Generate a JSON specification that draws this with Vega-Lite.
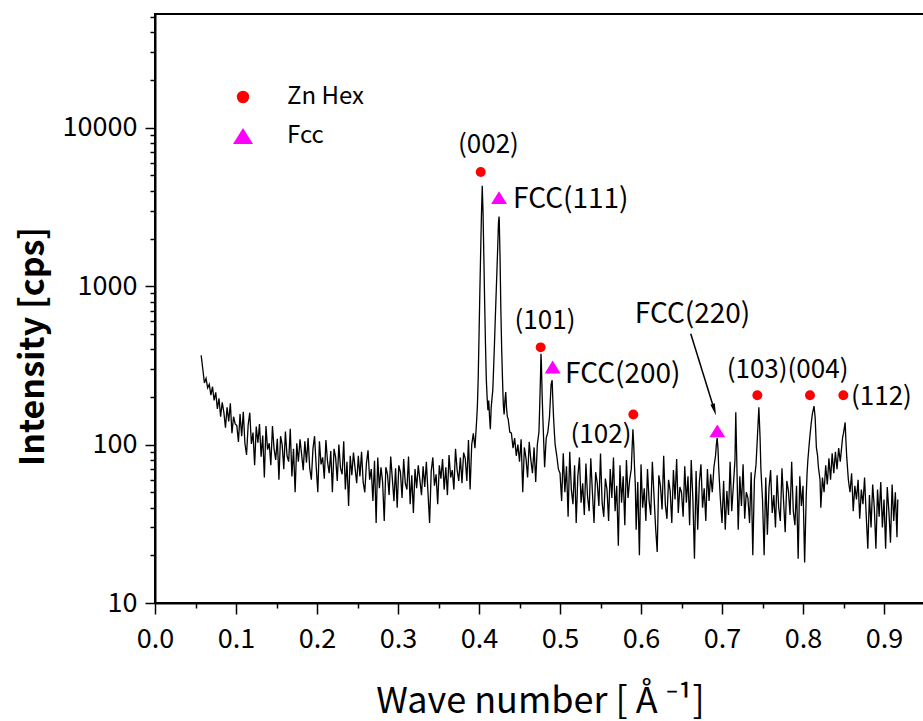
{
  "$schema": "https://vega.github.io/schema/vega-lite/v6.json",
  "width": 770,
  "height": 589,
  "autosize": "none",
  "padding": {"left": 155, "top": 14, "right": 0, "bottom": 118},
  "background": "white",
  "config": {
    "font": "Noto Sans CJK JP",
    "view": {"stroke": "black", "strokeWidth": 2},
    "axis": {"grid": false, "domainColor": "black", "domainWidth": 2, "tickColor": "black", "tickWidth": 1.5, "labelColor": "black", "titleColor": "black", "labelFont": "Noto Sans CJK JP", "titleFont": "Noto Sans CJK JP", "labelOverlap": false, "labelFlush": false}
  },
  "layer": [
    {
      "data": {"values": [
{"x":0.057,"y":366},{"x":0.059,"y":300},{"x":0.061,"y":245},{"x":0.063,"y":262},{"x":0.065,"y":228},{"x":0.067,"y":240},{"x":0.069,"y":205},{"x":0.071,"y":232},{"x":0.073,"y":190},{"x":0.075,"y":214},{"x":0.077,"y":168},{"x":0.079,"y":196},{"x":0.081,"y":150},{"x":0.083,"y":185},{"x":0.085,"y":160},{"x":0.087,"y":128},{"x":0.089,"y":172},{"x":0.091,"y":140},{"x":0.093,"y":182},{"x":0.095,"y":118},{"x":0.097,"y":150},{"x":0.099,"y":135},
{"x":0.101,"y":132},{"x":0.103,"y":104},{"x":0.105,"y":156},{"x":0.107,"y":113},{"x":0.109,"y":161},{"x":0.111,"y":102},{"x":0.113,"y":86},{"x":0.115,"y":133},{"x":0.117,"y":159},{"x":0.119,"y":101},{"x":0.121,"y":119},{"x":0.123,"y":74},{"x":0.125,"y":130},{"x":0.127,"y":103},{"x":0.129,"y":135},{"x":0.131,"y":84},{"x":0.133,"y":114},{"x":0.135,"y":62},{"x":0.137,"y":131},{"x":0.139,"y":93},{"x":0.141,"y":102},{"x":0.143,"y":74},{"x":0.145,"y":131},{"x":0.147,"y":94},{"x":0.149,"y":80},{"x":0.151,"y":109},{"x":0.153,"y":60},{"x":0.155,"y":113},{"x":0.157,"y":100},{"x":0.159,"y":70},{"x":0.161,"y":121},{"x":0.163,"y":85},{"x":0.165,"y":78},{"x":0.167,"y":126},{"x":0.169,"y":63},{"x":0.171,"y":94},{"x":0.173,"y":50},{"x":0.175,"y":102},{"x":0.177,"y":78},{"x":0.179,"y":108},{"x":0.181,"y":87},{"x":0.183,"y":69},{"x":0.185,"y":105},{"x":0.187,"y":77},{"x":0.189,"y":110},{"x":0.191,"y":71},{"x":0.193,"y":60},{"x":0.195,"y":94},{"x":0.197,"y":113},{"x":0.199,"y":73},
{"x":0.201,"y":50},{"x":0.203,"y":105},{"x":0.205,"y":75},{"x":0.207,"y":83},{"x":0.209,"y":61},{"x":0.211,"y":107},{"x":0.213,"y":78},{"x":0.215,"y":66},{"x":0.217,"y":91},{"x":0.219,"y":50},{"x":0.221,"y":94},{"x":0.223,"y":83},{"x":0.225,"y":59},{"x":0.227,"y":100},{"x":0.229,"y":71},{"x":0.231,"y":65},{"x":0.233,"y":105},{"x":0.235,"y":52},{"x":0.237,"y":78},{"x":0.239,"y":41},{"x":0.241,"y":85},{"x":0.243,"y":64},{"x":0.245,"y":89},{"x":0.247,"y":71},{"x":0.249,"y":57},{"x":0.251,"y":85},{"x":0.253,"y":63},{"x":0.255,"y":90},{"x":0.257,"y":58},{"x":0.259,"y":50},{"x":0.261,"y":76},{"x":0.263,"y":92},{"x":0.265,"y":60},{"x":0.267,"y":70},{"x":0.269,"y":44},{"x":0.271,"y":79},{"x":0.273,"y":32},{"x":0.275,"y":83},{"x":0.277,"y":53},{"x":0.279,"y":72},{"x":0.281,"y":58},{"x":0.283,"y":33},{"x":0.285,"y":72},{"x":0.287,"y":65},{"x":0.289,"y":48},{"x":0.291,"y":84},{"x":0.293,"y":61},{"x":0.295,"y":44},{"x":0.297,"y":71},{"x":0.299,"y":40},
{"x":0.301,"y":74},{"x":0.303,"y":67},{"x":0.305,"y":46},{"x":0.307,"y":81},{"x":0.309,"y":57},{"x":0.311,"y":52},{"x":0.313,"y":84},{"x":0.315,"y":42},{"x":0.317,"y":64},{"x":0.319,"y":37},{"x":0.321,"y":70},{"x":0.323,"y":53},{"x":0.325,"y":74},{"x":0.327,"y":60},{"x":0.329,"y":48},{"x":0.331,"y":73},{"x":0.333,"y":54},{"x":0.335,"y":78},{"x":0.337,"y":50},{"x":0.339,"y":32},{"x":0.341,"y":68},{"x":0.343,"y":83},{"x":0.345,"y":55},{"x":0.347,"y":65},{"x":0.349,"y":42},{"x":0.351,"y":74},{"x":0.353,"y":61},{"x":0.355,"y":81},{"x":0.357,"y":52},{"x":0.359,"y":72},{"x":0.361,"y":48},{"x":0.363,"y":86},{"x":0.365,"y":62},{"x":0.367,"y":69},{"x":0.369,"y":52},{"x":0.371,"y":94},{"x":0.373,"y":69},{"x":0.375,"y":59},{"x":0.377,"y":83},{"x":0.379,"y":57},{"x":0.381,"y":89},{"x":0.383,"y":82},{"x":0.385,"y":59},{"x":0.387,"y":107},{"x":0.389,"y":52},{"x":0.391,"y":100},{"x":0.393,"y":118},{"x":0.395,"y":95},{"x":0.397,"y":140},{"x":0.398,"y":175},{"x":0.399,"y":260},{"x":0.400,"y":480},{"x":0.401,"y":900},{"x":0.402,"y":1600},{"x":0.403,"y":2800},{"x":0.404,"y":4300},{"x":0.405,"y":2900},{"x":0.406,"y":1500},{"x":0.407,"y":780},{"x":0.408,"y":430},{"x":0.409,"y":260},{"x":0.410,"y":200},{"x":0.411,"y":165},{"x":0.412,"y":190},{"x":0.413,"y":150},{"x":0.414,"y":125},{"x":0.415,"y":170},{"x":0.416,"y":195},{"x":0.417,"y":220},{"x":0.418,"y":300},{"x":0.419,"y":420},{"x":0.420,"y":600},{"x":0.421,"y":850},{"x":0.422,"y":1200},{"x":0.423,"y":1700},{"x":0.424,"y":2500},{"x":0.4247,"y":2750},{"x":0.425,"y":2600},{"x":0.426,"y":1500},{"x":0.427,"y":700},{"x":0.428,"y":400},{"x":0.429,"y":260},{"x":0.430,"y":180},{"x":0.431,"y":155},{"x":0.432,"y":190},{"x":0.433,"y":215},{"x":0.434,"y":170},{"x":0.435,"y":150},{"x":0.436,"y":145},{"x":0.438,"y":120},{"x":0.440,"y":118},{"x":0.442,"y":95},{"x":0.444,"y":110},{"x":0.446,"y":85},{"x":0.448,"y":100},{"x":0.450,"y":78},{"x":0.452,"y":108},{"x":0.454,"y":50},{"x":0.456,"y":96},{"x":0.458,"y":82},{"x":0.460,"y":62},{"x":0.462,"y":104},{"x":0.464,"y":80},{"x":0.466,"y":66},{"x":0.468,"y":96},{"x":0.470,"y":58},{"x":0.472,"y":100},{"x":0.474,"y":120},{"x":0.475,"y":180},{"x":0.476,"y":280},{"x":0.4765,"y":375},{"x":0.477,"y":330},{"x":0.478,"y":200},{"x":0.479,"y":140},{"x":0.480,"y":100},{"x":0.481,"y":72},{"x":0.482,"y":90},{"x":0.483,"y":110},{"x":0.485,"y":120},{"x":0.487,"y":150},{"x":0.488,"y":190},{"x":0.489,"y":240},{"x":0.4903,"y":255},{"x":0.491,"y":200},{"x":0.492,"y":150},{"x":0.493,"y":120},{"x":0.494,"y":100},{"x":0.496,"y":85},{"x":0.498,"y":70},
{"x":0.500,"y":66},{"x":0.502,"y":44},{"x":0.504,"y":88},{"x":0.506,"y":50},{"x":0.508,"y":73},{"x":0.510,"y":35},{"x":0.512,"y":90},{"x":0.514,"y":52},{"x":0.516,"y":42},{"x":0.518,"y":74},{"x":0.520,"y":32},{"x":0.522,"y":63},{"x":0.524,"y":83},{"x":0.526,"y":43},{"x":0.528,"y":57},{"x":0.530,"y":36},{"x":0.532,"y":76},{"x":0.534,"y":47},{"x":0.536,"y":38},{"x":0.538,"y":82},{"x":0.540,"y":50},{"x":0.542,"y":32},{"x":0.544,"y":67},{"x":0.546,"y":57},{"x":0.548,"y":41},{"x":0.550,"y":88},{"x":0.552,"y":43},{"x":0.554,"y":35},{"x":0.556,"y":61},{"x":0.558,"y":52},{"x":0.560,"y":33},{"x":0.562,"y":70},{"x":0.564,"y":46},{"x":0.566,"y":83},{"x":0.568,"y":38},{"x":0.570,"y":55},{"x":0.572,"y":23},{"x":0.574,"y":74},{"x":0.576,"y":43},{"x":0.578,"y":63},{"x":0.580,"y":31},{"x":0.582,"y":80},{"x":0.584,"y":46},{"x":0.586,"y":60},{"x":0.588,"y":70},{"x":0.589,"y":95},{"x":0.590,"y":125},{"x":0.591,"y":100},{"x":0.592,"y":72},{"x":0.593,"y":55},{"x":0.594,"y":29},{"x":0.596,"y":58},{"x":0.598,"y":20},
{"x":0.600,"y":75},{"x":0.602,"y":40},{"x":0.604,"y":53},{"x":0.606,"y":33},{"x":0.608,"y":70},{"x":0.610,"y":44},{"x":0.612,"y":36},{"x":0.614,"y":78},{"x":0.616,"y":48},{"x":0.618,"y":30},{"x":0.620,"y":21},{"x":0.622,"y":64},{"x":0.624,"y":55},{"x":0.626,"y":39},{"x":0.628,"y":85},{"x":0.630,"y":42},{"x":0.632,"y":34},{"x":0.634,"y":60},{"x":0.636,"y":51},{"x":0.638,"y":32},{"x":0.640,"y":69},{"x":0.642,"y":45},{"x":0.644,"y":81},{"x":0.646,"y":37},{"x":0.648,"y":54},{"x":0.650,"y":50},{"x":0.652,"y":35},{"x":0.654,"y":73},{"x":0.656,"y":43},{"x":0.658,"y":63},{"x":0.660,"y":31},{"x":0.662,"y":80},{"x":0.664,"y":46},{"x":0.666,"y":19},{"x":0.668,"y":68},{"x":0.670,"y":29},{"x":0.672,"y":58},{"x":0.674,"y":75},{"x":0.676,"y":40},{"x":0.678,"y":53},{"x":0.680,"y":33},{"x":0.682,"y":70},{"x":0.684,"y":44},{"x":0.686,"y":65},{"x":0.688,"y":50},{"x":0.690,"y":72},{"x":0.692,"y":85},{"x":0.693,"y":100},{"x":0.694,"y":110},{"x":0.695,"y":95},{"x":0.696,"y":70},{"x":0.698,"y":45},
{"x":0.700,"y":32},{"x":0.702,"y":59},{"x":0.704,"y":29},{"x":0.706,"y":51},{"x":0.708,"y":36},{"x":0.710,"y":78},{"x":0.712,"y":38},{"x":0.714,"y":55},{"x":0.716,"y":80},{"x":0.717,"y":160},{"x":0.718,"y":90},{"x":0.720,"y":29},{"x":0.722,"y":63},{"x":0.724,"y":41},{"x":0.726,"y":75},{"x":0.728,"y":34},{"x":0.730,"y":50},{"x":0.732,"y":46},{"x":0.734,"y":32},{"x":0.736,"y":67},{"x":0.738,"y":20},{"x":0.740,"y":60},{"x":0.742,"y":75},{"x":0.744,"y":120},{"x":0.7455,"y":172},{"x":0.747,"y":110},{"x":0.748,"y":70},{"x":0.750,"y":45},{"x":0.752,"y":20},{"x":0.754,"y":62},{"x":0.756,"y":27},{"x":0.758,"y":53},{"x":0.760,"y":69},{"x":0.762,"y":37},{"x":0.764,"y":48},{"x":0.766,"y":30},{"x":0.768,"y":64},{"x":0.770,"y":40},{"x":0.772,"y":33},{"x":0.774,"y":71},{"x":0.776,"y":44},{"x":0.778,"y":28},{"x":0.780,"y":59},{"x":0.782,"y":51},{"x":0.784,"y":36},{"x":0.786,"y":78},{"x":0.788,"y":38},{"x":0.790,"y":31},{"x":0.792,"y":55},{"x":0.794,"y":19},{"x":0.796,"y":63},{"x":0.798,"y":41},
{"x":0.800,"y":55},{"x":0.802,"y":18},{"x":0.804,"y":48},{"x":0.805,"y":66},{"x":0.806,"y":80},{"x":0.808,"y":106},{"x":0.810,"y":135},{"x":0.8116,"y":157},{"x":0.8136,"y":175},{"x":0.815,"y":148},{"x":0.8165,"y":96},{"x":0.818,"y":85},{"x":0.819,"y":72},{"x":0.821,"y":60},{"x":0.822,"y":40},{"x":0.824,"y":62},{"x":0.826,"y":50},{"x":0.828,"y":74},{"x":0.830,"y":56},{"x":0.832,"y":82},{"x":0.834,"y":60},{"x":0.836,"y":88},{"x":0.838,"y":66},{"x":0.840,"y":90},{"x":0.842,"y":70},{"x":0.844,"y":95},{"x":0.846,"y":78},{"x":0.848,"y":100},{"x":0.849,"y":112},{"x":0.850,"y":118},{"x":0.852,"y":138},{"x":0.853,"y":105},{"x":0.854,"y":83},{"x":0.856,"y":60},{"x":0.858,"y":50},{"x":0.860,"y":66},{"x":0.862,"y":38},{"x":0.864,"y":55},{"x":0.866,"y":45},{"x":0.868,"y":60},{"x":0.870,"y":34},{"x":0.872,"y":52},{"x":0.874,"y":42},{"x":0.876,"y":62},{"x":0.878,"y":36},{"x":0.880,"y":22},{"x":0.882,"y":48},{"x":0.884,"y":30},{"x":0.886,"y":56},{"x":0.888,"y":40},{"x":0.890,"y":22},{"x":0.892,"y":52},{"x":0.894,"y":35},{"x":0.896,"y":58},{"x":0.898,"y":30},{"x":0.900,"y":45},{"x":0.902,"y":22},{"x":0.904,"y":54},{"x":0.906,"y":38},{"x":0.908,"y":24},{"x":0.910,"y":56},{"x":0.912,"y":33},{"x":0.914,"y":50},{"x":0.916,"y":26},{"x":0.917,"y":45}
      ]},
      "mark": {"type": "line", "color": "black", "strokeWidth": 1.3, "clip": true},
      "encoding": {
        "x": {"field": "x", "type": "quantitative",
          "scale": {"domain": [0, 0.9506], "nice": false, "zero": false},
          "axis": {
            "values": [0,0.05,0.1,0.15,0.2,0.25,0.3,0.35,0.4,0.45,0.5,0.55,0.6,0.65,0.7,0.75,0.8,0.85,0.9],
            "labelExpr": "round(datum.value*100) % 10 == 0 ? format(datum.value, '.1f') : ''",
            "tickSize": {"condition": {"test": "round(datum.value*100) % 10 == 0", "value": 11}, "value": 5},
            "labelFontSize": 27, "labelPadding": 12,
            "title": "Wave number [ Å ⁻¹]", "titleFontSize": 36, "titleFontWeight": "normal", "titlePadding": 32
          }
        },
        "y": {"field": "y", "type": "quantitative",
          "scale": {"type": "log", "domain": [10, 52300], "nice": false},
          "axis": {
            "values": [10,20,30,40,50,60,70,80,90,100,200,300,400,500,600,700,800,900,1000,2000,3000,4000,5000,6000,7000,8000,9000,10000,20000,30000,40000,50000],
            "labelExpr": "indexof([10,100,1000,10000], datum.value) >= 0 ? format(datum.value, 'd') : ''",
            "tickSize": {"condition": {"test": "indexof([10,100,1000,10000], datum.value) >= 0", "value": 10}, "value": 5},
            "labelFontSize": 27, "labelPadding": 8,
            "title": "Intensity [cps]", "titleFontSize": 34, "titleFontWeight": "bold", "titlePadding": 12, "titleY": 332
          }
        }
      }
    },
    {
      "data": {"values": [
        {"x": 0.4021, "y": 5260, "phase": "Zn Hex"},
        {"x": 0.4761, "y": 411, "phase": "Zn Hex"},
        {"x": 0.5905, "y": 155, "phase": "Zn Hex"},
        {"x": 0.7436, "y": 205, "phase": "Zn Hex"},
        {"x": 0.8086, "y": 205, "phase": "Zn Hex"},
        {"x": 0.8498, "y": 205, "phase": "Zn Hex"},
        {"x": 0.4247, "y": 3622, "phase": "Fcc"},
        {"x": 0.4909, "y": 309, "phase": "Fcc"},
        {"x": 0.6942, "y": 122, "phase": "Fcc"}
      ]},
      "mark": {"type": "point", "filled": true, "opacity": 1, "size": 98},
      "encoding": {
        "x": {"field": "x", "type": "quantitative"},
        "y": {"field": "y", "type": "quantitative"},
        "color": {"field": "phase", "type": "nominal",
          "scale": {"domain": ["Zn Hex", "Fcc"], "range": ["#ff0000", "#ff00ff"]},
          "legend": {"orient": "none", "legendX": 76, "legendY": 71, "title": null, "labelFontSize": 24, "labelColor": "black", "labelOffset": 32, "rowPadding": 15, "padding": 0, "symbolSize": 154, "symbolStrokeWidth": 0}},
        "shape": {"field": "phase", "type": "nominal",
          "scale": {"domain": ["Zn Hex", "Fcc"], "range": ["circle", "M0,-1.3L1.61,1.3L-1.61,1.3Z"]}}
      }
    },
    {
      "data": {"values": [
        {"x": 0.4117, "y": 7757, "label": "(002)"},
        {"x": 0.4815, "y": 600, "label": "(101)"},
        {"x": 0.5506, "y": 114.5, "label": "(102)"},
        {"x": 0.7809, "y": 294, "label": "(103)(004)"}
      ]},
      "mark": {"type": "text", "fontSize": 26, "color": "black", "align": "center", "baseline": "middle"},
      "encoding": {
        "x": {"field": "x", "type": "quantitative"},
        "y": {"field": "y", "type": "quantitative"},
        "text": {"field": "label"}
      }
    },
    {
      "data": {"values": [
        {"x": 0.8593, "y": 199, "label": "(112)"}
      ]},
      "mark": {"type": "text", "fontSize": 26, "color": "black", "align": "left", "baseline": "middle"},
      "encoding": {
        "x": {"field": "x", "type": "quantitative"},
        "y": {"field": "y", "type": "quantitative"},
        "text": {"field": "label"}
      }
    },
    {
      "data": {"values": [
        {"x": 0.442, "y": 3484, "label": "FCC(111)"},
        {"x": 0.5062, "y": 274, "label": "FCC(200)"}
      ]},
      "mark": {"type": "text", "fontSize": 28, "color": "black", "align": "left", "baseline": "middle"},
      "encoding": {
        "x": {"field": "x", "type": "quantitative"},
        "y": {"field": "y", "type": "quantitative"},
        "text": {"field": "label"}
      }
    },
    {
      "data": {"values": [
        {"x": 0.6636, "y": 655, "label": "FCC(220)"}
      ]},
      "mark": {"type": "text", "fontSize": 28, "color": "black", "align": "center", "baseline": "middle"},
      "encoding": {
        "x": {"field": "x", "type": "quantitative"},
        "y": {"field": "y", "type": "quantitative"},
        "text": {"field": "label"}
      }
    },
    {
      "data": {"values": [{"x": 0.6614, "y": 501, "x2": 0.6905, "y2": 166}]},
      "mark": {"type": "rule", "color": "black", "strokeWidth": 1.5},
      "encoding": {
        "x": {"field": "x", "type": "quantitative"},
        "y": {"field": "y", "type": "quantitative"},
        "x2": {"field": "x2"},
        "y2": {"field": "y2"}
      }
    },
    {
      "data": {"values": [{"x": 0.6905, "y": 166}]},
      "mark": {"type": "point", "shape": "M0,-1L0.38,1L-0.38,1Z", "size": 144, "angle": 163.5, "filled": true, "color": "black", "opacity": 1},
      "encoding": {
        "x": {"field": "x", "type": "quantitative"},
        "y": {"field": "y", "type": "quantitative"}
      }
    }
  ]
}
